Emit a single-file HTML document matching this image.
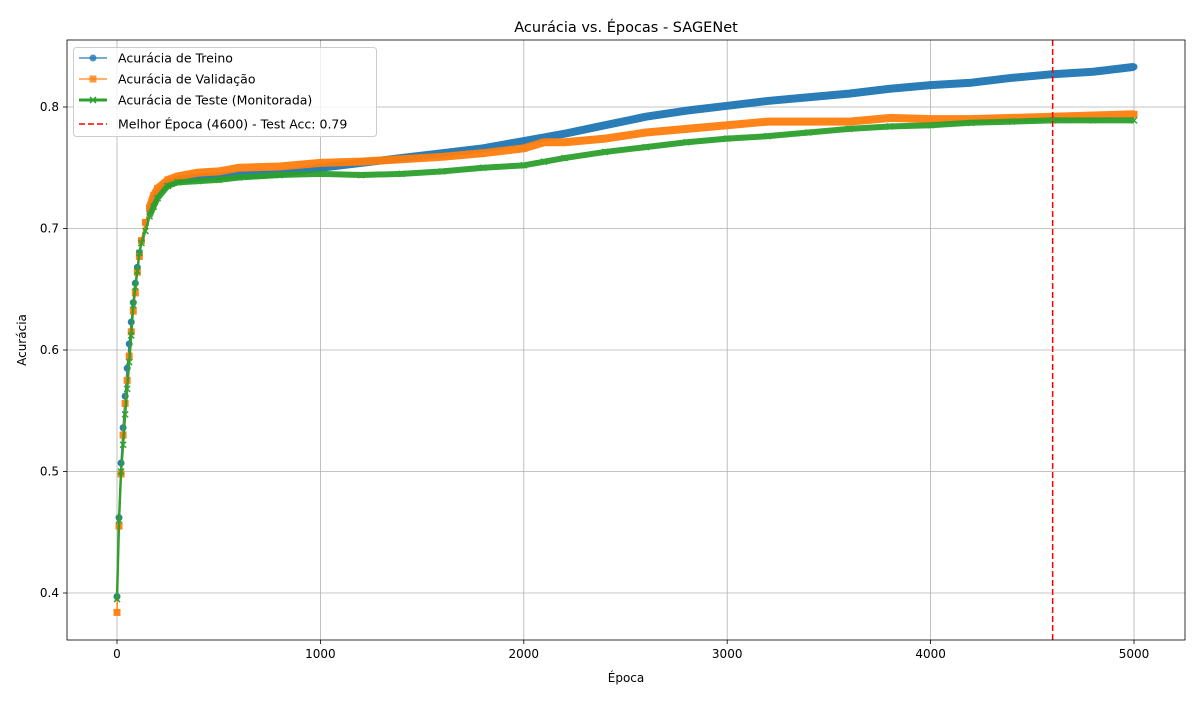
<!DOCTYPE html>
<html><head><meta charset="utf-8"><style>
body{margin:0;background:#fff;}
svg text{font-family:"DejaVu Sans","Liberation Sans",sans-serif;}
</style></head><body>
<svg id="chart" width="1200" height="700" viewBox="0 0 1200 700" xmlns="http://www.w3.org/2000/svg"></svg>
<script>
const epochs=[0,10,20,30,40,50,60,70,80,90,100,110,120,140,160,180,200,250,300,400,500,600,800,1000,1200,1400,1600,1800,2000,2100,2200,2400,2600,2800,3000,3200,3400,3600,3800,4000,4200,4400,4600,4800,5000];
const trainAcc=[0.397,0.462,0.507,0.536,0.562,0.585,0.605,0.623,0.639,0.655,0.668,0.680,0.690,0.705,0.715,0.723,0.730,0.737,0.740,0.742,0.743,0.744,0.745,0.750,0.754,0.758,0.762,0.766,0.772,0.775,0.778,0.785,0.792,0.797,0.801,0.805,0.808,0.811,0.815,0.818,0.820,0.824,0.827,0.829,0.833];
const valAcc=[0.384,0.455,0.498,0.530,0.556,0.575,0.595,0.615,0.632,0.647,0.664,0.677,0.690,0.705,0.717,0.727,0.733,0.740,0.743,0.746,0.747,0.750,0.751,0.754,0.755,0.757,0.759,0.762,0.766,0.771,0.771,0.774,0.779,0.782,0.785,0.788,0.788,0.788,0.791,0.790,0.790,0.791,0.792,0.793,0.794];
const testAcc=[0.395,0.460,0.500,0.522,0.547,0.568,0.590,0.612,0.637,0.652,0.665,0.680,0.688,0.698,0.710,0.718,0.725,0.735,0.738,0.739,0.740,0.742,0.744,0.745,0.744,0.745,0.747,0.750,0.752,0.755,0.758,0.763,0.767,0.771,0.774,0.776,0.779,0.782,0.784,0.785,0.787,0.788,0.789,0.789,0.789];
const xTicks=[0,1000,2000,3000,4000,5000];
const yTicks=[0.4,0.5,0.6,0.7,0.8];
const bestEpoch=4600;

const NS="http://www.w3.org/2000/svg";
const svg=document.getElementById('chart');
const L=67,R=1185,T=40,B=640;
const X=v=>117+(v)*(1134-117)/5000;
const Y=v=>593-(v-0.4)*(593-107)/0.4;
function el(tag,attrs,parent){const e=document.createElementNS(NS,tag);for(const k in attrs)e.setAttribute(k,attrs[k]);(parent||svg).appendChild(e);return e;}

const grid=el('g',{});


xTicks.forEach(t=>{
  el('line',{x1:X(t),x2:X(t),y1:T,y2:B,stroke:'#b0b0b0','stroke-width':0.8},grid);
  el('line',{x1:X(t),x2:X(t),y1:B,y2:B+4,stroke:'#000','stroke-width':0.8},grid);
  const tx=el('text',{x:X(t),y:B+18,'text-anchor':'middle','font-size':12},grid);tx.textContent=t;
  
  
});
yTicks.forEach(t=>{
  el('line',{x1:L,x2:R,y1:Y(t),y2:Y(t),stroke:'#b0b0b0','stroke-width':0.8},grid);
  el('line',{x1:L-4,x2:L,y1:Y(t),y2:Y(t),stroke:'#000','stroke-width':0.8},grid);
  const ty=el('text',{x:L-8,y:Y(t)+4,'text-anchor':'end','font-size':12},grid);ty.textContent=t.toFixed(1);
  
  
});

function series(vals,color,name,marker,lw,alpha){
  const g=el('g',{opacity:alpha});
  
  
  const pts=epochs.map((e,i)=>X(e)+','+Y(vals[i])).join(' ');
  const late=epochs.map((e,i)=>[e,vals[i]]).filter(p=>p[0]>=150).map(p=>X(p[0])+','+Y(p[1])).join(' ');
  el('polyline',{points:pts,fill:'none',stroke:color,'stroke-width':lw},g);
  el('polyline',{points:late,fill:'none',stroke:color,'stroke-width':marker==='x'?6:8,'stroke-linejoin':'round'},g);
  epochs.forEach((e,i)=>{
    const cx=X(e),cy=Y(vals[i]);
    let m;
    if(marker==='o')m=el('circle',{cx,cy,r:3.5,fill:color},g);
    else if(marker==='s')m=el('rect',{x:cx-3.5,y:cy-3.5,width:7,height:7,fill:color},g);
    else {m=el('path',{d:`M${cx-3},${cy-3}L${cx+3},${cy+3}M${cx-3},${cy+3}L${cx+3},${cy-3}`,stroke:color,'stroke-width':1.5},g);}
    
    
  });
}
series(trainAcc,'#1f77b4','train-series','o',1.5,0.95);
series(valAcc,'#ff7f0e','validation-series','s',1.5,0.95);
series(testAcc,'#2ca02c','test-series','x',2.5,0.95);

const best=el('line',{x1:X(bestEpoch),x2:X(bestEpoch),y1:T,y2:B,stroke:'#ff0000','stroke-width':1.5,'stroke-dasharray':'6,3'});



const frame=el('rect',{x:L,y:T,width:R-L,height:B-T,fill:'none',stroke:'#000','stroke-width':0.8});



const title=el('text',{x:(L+R)/2,y:32,'text-anchor':'middle','font-size':14.5});title.textContent='Acurácia vs. Épocas - SAGENet';


const xl=el('text',{x:(L+R)/2,y:682,'text-anchor':'middle','font-size':12});xl.textContent='Época';


const yl=el('text',{x:0,y:0,'text-anchor':'middle','font-size':12,transform:`translate(26,${(T+B)/2}) rotate(-90)`});yl.textContent='Acurácia';



const lg=el('g',{});


el('rect',{x:73.5,y:47.5,width:303,height:89,rx:3,fill:'#fff','fill-opacity':0.8,stroke:'#ccc'},lg);
const entries=[['Acurácia de Treino','#1f77b4','o'],['Acurácia de Validação','#ff7f0e','s'],['Acurácia de Teste (Monitorada)','#2ca02c','x'],['Melhor Época (4600) - Test Acc: 0.79','#ff0000','d']];
entries.forEach((en,i)=>{
  const y=58+i*21+(i===3?3:0);
  const eg=el('g',{},lg);
  
  
  if(en[2]==='d')el('line',{x1:79,x2:107,y1:y,y2:y,stroke:en[1],'stroke-width':1.5,'stroke-dasharray':'6,3'},eg);
  else el('line',{x1:79,x2:107,y1:y,y2:y,stroke:en[1],'stroke-width':en[2]==='x'?3:1.5,opacity:en[2]==='x'?1:0.8},eg);
  if(en[2]==='o')el('circle',{cx:93,cy:y,r:3.5,fill:en[1],opacity:0.8},eg);
  if(en[2]==='s')el('rect',{x:89.5,y:y-3.5,width:7,height:7,fill:en[1],opacity:0.8},eg);
  if(en[2]==='x')el('path',{d:`M90,${y-3}L96,${y+3}M90,${y+3}L96,${y-3}`,stroke:en[1],'stroke-width':1.5},eg);
  const t=el('text',{x:118,y:y+4.5,'font-size':12.5},eg);t.textContent=en[0];
});
</script>
</body></html>
